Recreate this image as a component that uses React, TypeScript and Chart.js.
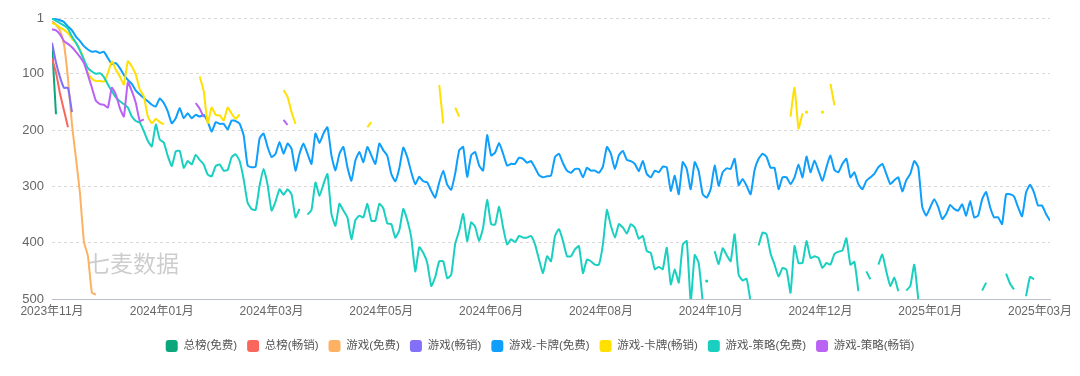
import { useEffect, useRef } from 'react';
import { Chart, registerables } from 'chart.js';

Chart.register(...registerables);

// ---- axis / tick data ----
const SAMPLE_STEP = 2; // days between samples in each value list
const TOTAL_DAYS = 500;
const TICK_STEP = 55; // days between month labels
const MONTH_TICKS = [
  '2023年11月', '2024年01月', '2024年03月', '2024年05月', '2024年06月',
  '2024年08月', '2024年10月', '2024年12月', '2025年01月', '2025年03月',
];
const Y_TICKS = [1, 100, 200, 300, 400, 500];

const SERIES_NAMES = [
  '总榜(免费)', '总榜(畅销)', '游戏(免费)', '游戏(畅销)',
  '游戏-卡牌(免费)', '游戏-卡牌(畅销)', '游戏-策略(免费)', '游戏-策略(畅销)',
];
const SERIES_COLORS = [
  '#0BA67C', '#F8665C', '#FDB163', '#8270F8',
  '#0D9FFB', '#FFE000', '#19D0C0', '#BA62F4',
];

// each series: list of [start day, ranks sampled every SAMPLE_STEP days]
type Segments = [number, number[]][];

const TOTAL_FREE: Segments = [[0, [48, 172]]];
const TOTAL_GROSS: Segments = [[0, [73, 98, 135, 165, 195]]];
const GAME_FREE: Segments = [[0, [7, 13, 23, 48, 108, 190, 250, 312, 398, 424, 489, 492]]];
const GAME_GROSS: Segments = [[0, [45, 80, 106, 125, 125, 168]]];

const CARD_FREE: Segments = [[0, [
  2, 3, 5, 8, 16, 23, 34, 42, 51, 57, 61, 60, 63, 61, 72, 83, 81, 90, 102, 111,
  118, 130, 137, 143, 149, 155, 158, 144, 152, 167, 188, 179, 161, 179, 170, 179, 173, 176, 173, 185,
  203, 186,
  189, 189, 199, 183, 184, 189, 209, 263, 266, 265, 215, 206, 230, 248, 242, 221, 242, 224, 233, 272,
  242, 224, 242, 260, 206, 223, 206, 195, 245, 272, 242, 230, 266, 290, 254, 239, 257, 230, 245, 260,
  224, 236, 246,
  278, 291, 268, 231, 248, 275, 296, 283, 291, 293, 308, 320, 293, 272, 297, 306, 277, 236, 230, 283,
  245, 239, 263, 272, 209, 245, 240, 223, 242, 263, 260, 260, 249, 251, 258, 255, 267, 280, 284, 282,
  281, 248, 242,
  259, 272, 276, 269, 269, 284, 267, 272, 272, 276, 265, 230, 242, 269, 245, 237, 253, 255, 260, 273,
  255, 278, 284, 272, 275, 265, 266, 308, 281, 314, 257, 269, 305, 257, 273, 314, 320, 305, 263, 299,
  275, 268,
  269, 251, 298, 287, 299, 314, 271, 251, 242, 248, 267, 267, 305, 284, 284, 296, 284, 261, 284, 247,
  275, 254, 272, 290, 266, 245, 271, 275, 260, 251, 284, 275, 296, 305, 290, 284, 278, 266, 260, 278,
  296, 289,
  284, 309, 289, 278, 255, 266, 337, 352, 337, 323, 337, 358, 349, 333, 340, 343, 332, 352, 326, 355,
  352, 323, 310, 337, 355, 355, 367, 314, 314, 318, 337, 353, 311, 297, 311, 334, 334, 349, 361,
]]];

const CARD_GROSS: Segments = [
  [0, [10, 13, 18, 22, 28, 38, 45, 57, 75, 99, 109, 113, 113, 114, 99, 78, 93, 105, 119, 78,
    87, 102, 128, 140, 176, 188, 180, 186, 190]],
  [74, [105, 131, 188, 160, 173, 174, 183, 160, 171, 180, 172]],
  [116, [129, 141, 168, 189]],
  [158, [195, 186]],
  [194, [120, 188]],
  [202, [160, 176]],
  [370, [176, 125, 197, 170]],
  [378, [168]],
  [386, [168]],
  [390, [118, 156]],
];

const STRATEGY_FREE: Segments = [
  [0, [
    2, 6, 10, 14, 20, 34, 45, 59, 75, 90, 96, 100, 99, 106, 119, 131, 142, 149, 154, 160,
    176, 184, 187, 202, 219, 229, 190, 217, 222, 246, 264, 238, 237, 267, 255, 261, 244, 253, 261, 279,
    282, 264,
    261, 272, 271, 248, 243, 255, 287, 329, 340, 342, 299, 269, 297, 343, 327, 305, 315, 305, 314, 355,
    340,
  ]],
  [128, [
    350, 342, 293, 317, 296, 278, 349, 370, 331, 343, 355, 394, 360, 352, 355, 331, 361, 361, 331, 339,
    366,
    367, 391, 378, 340, 360, 391, 451, 408, 418, 436, 477, 461, 433, 433, 463, 457, 402, 379, 349, 397,
    364, 372, 397, 373, 324, 367, 368, 336, 373, 403, 394, 399, 388, 391, 391, 388, 403, 430, 454, 424,
    433, 388, 376,
    397, 424, 424, 412, 406, 454, 430, 433, 439, 439, 403, 342, 370, 391, 367, 373, 384, 367, 373, 393,
    388, 415, 418, 447, 443, 447, 409, 474, 447, 471, 404, 397, 505, 422, 436, 505,
  ]],
  [328, [468]],
  [332, [415, 438, 410, 422, 433, 385, 457, 467, 464, 505]],
  [354, [
    405, 382, 385, 419, 439, 460, 445, 448, 489, 406, 436, 436, 397, 427, 424, 427, 445, 436, 439, 420,
    416, 414, 392, 439, 434, 486,
  ]],
  [408, [451, 465]],
  [414, [439, 421, 451, 477, 462, 486]],
  [428, [485, 477, 439, 500]],
  [466, [485, 471]],
  [478, [455, 473, 483]],
  [488, [495, 461, 465]],
];

const STRATEGY_GROSS: Segments = [
  [0, [21, 23, 30, 42, 47, 53, 61, 70, 81, 102, 125, 148, 154, 155, 160, 125, 137, 161, 176, 115,
    131, 152, 184, 181]],
  [72, [152, 162, 177]],
  [116, [182, 191]],
];

const SERIES_DATA: Segments[] = [
  TOTAL_FREE, TOTAL_GROSS, GAME_FREE, GAME_GROSS,
  CARD_FREE, CARD_GROSS, STRATEGY_FREE, STRATEGY_GROSS,
];

function toPoints(segs: Segments) {
  const pts: { x: number; y: number | null }[] = [];
  segs.forEach(([start, vals], si) => {
    if (si > 0) pts.push({ x: start - 1, y: null });
    vals.forEach((v, i) => pts.push({ x: start + i * SAMPLE_STEP, y: v }));
  });
  return pts;
}

const watermark = {
  id: 'watermark',
  beforeDatasetsDraw(chart: any) {
    const { ctx, chartArea } = chart;
    ctx.save();
    ctx.font = "23px 'Noto Sans CJK SC', sans-serif";
    ctx.fillStyle = 'rgba(0,0,0,0.2)';
    ctx.textAlign = 'left';
    ctx.textBaseline = 'middle';
    ctx.fillText('七麦数据', chartArea.left + 35, chartArea.bottom - 36);
    ctx.restore();
  },
};

export default function App() {
  const ref = useRef<HTMLCanvasElement>(null);

  useEffect(() => {
    document.body.style.margin = '0';
    Chart.defaults.font.family = "'Liberation Sans', 'Noto Sans CJK SC', sans-serif";
    const n = SERIES_NAMES.length;
    const chart = new Chart(ref.current as HTMLCanvasElement, {
      type: 'line',
      data: {
        datasets: SERIES_NAMES.map((name, i) => ({
          label: name,
          data: toPoints(SERIES_DATA[i]),
          borderColor: SERIES_COLORS[i],
          backgroundColor: SERIES_COLORS[i],
          pointBackgroundColor: SERIES_COLORS[i],
          borderWidth: 2,
          pointBorderWidth: 0,
          pointHoverRadius: 0,
          pointRadius: (ctx: any) => {
            const d = ctx.dataset.data as any[];
            const k = ctx.dataIndex;
            const p = d[k - 1];
            const q = d[k + 1];
            return (!p || p.y == null) && (!q || q.y == null) ? 1.6 : 0;
          },
          tension: 0.15,
          spanGaps: false,
          order: n - i,
          yAxisID: 'y',
        })),
      },
      options: {
        responsive: true,
        maintainAspectRatio: false,
        animation: false,
        events: [],
        layout: { padding: { top: 18, right: 0, left: 0, bottom: 14 } },
        plugins: {
          tooltip: { enabled: false },
          legend: {
            position: 'bottom',
            labels: {
              boxWidth: 12,
              boxHeight: 12,
              useBorderRadius: true,
              borderRadius: 3,
              padding: 10,
              color: '#555',
              font: { size: 11.5 },
              sort: (a: any, b: any) => a.datasetIndex - b.datasetIndex,
              generateLabels: (c: any) =>
                Chart.defaults.plugins.legend.labels
                  .generateLabels(c)
                  .map((l: any) => ({ ...l, lineWidth: 0 })),
            },
          },
        },
        scales: {
          x: {
            type: 'linear',
            min: 0,
            max: TOTAL_DAYS,
            grid: { display: false, drawTicks: false },
            border: { display: true, color: '#b9bec7', width: 1 },
            afterBuildTicks: (scale: any) => {
              scale.ticks = MONTH_TICKS.map((_, i) => ({ value: i * TICK_STEP }));
            },
            afterFit: (scale: any) => {
              scale.height = 31;
            },
            ticks: {
              autoSkip: false,
              maxRotation: 0,
              padding: 5,
              color: '#666',
              font: { size: 12 },
              callback: (v: any) => MONTH_TICKS[Math.round(Number(v) / TICK_STEP)] ?? '',
            },
          },
          y: {
            position: 'left',
            reverse: true,
            min: 1,
            max: 500,
            grid: { color: '#d9d9d9', drawTicks: false },
            border: { display: false, dash: [3, 3] },
            afterBuildTicks: (scale: any) => {
              scale.ticks = Y_TICKS.map((v) => ({ value: v }));
            },
            afterFit: (scale: any) => {
              scale.width = 52;
            },
            ticks: {
              padding: 8,
              color: '#666',
              font: { size: 13 },
            },
          },
          rightSpace: {
            type: 'linear',
            position: 'right',
            grid: { display: false, drawTicks: false },
            border: { display: false },
            ticks: { display: false },
            afterFit: (scale: any) => {
              scale.width = 30;
            },
          },
        },
      },
      plugins: [watermark],
    } as any);
    return () => chart.destroy();
  }, []);

  return (
    <div style={{ width: 1080, height: 376, position: 'relative' }}>
      <canvas ref={ref} />
    </div>
  );
}
